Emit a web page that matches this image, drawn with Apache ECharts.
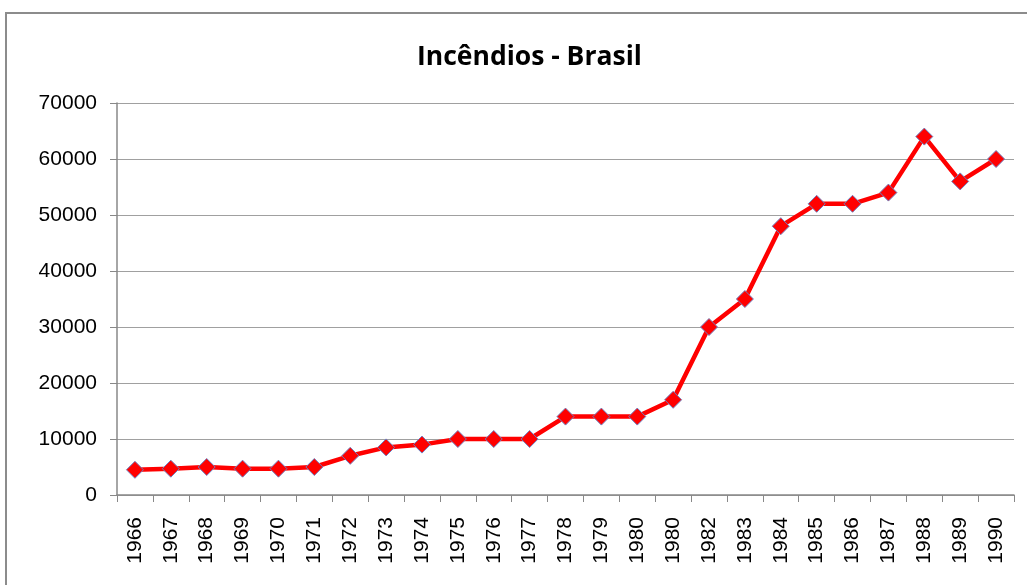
<!DOCTYPE html>
<html>
<head>
<meta charset="utf-8">
<script src="https://cdn.jsdelivr.net/npm/echarts@6/dist/echarts.min.js"></script>
<style>
html,body{margin:0;padding:0;background:#fff;}
#frame{position:absolute;left:5px;top:12px;width:1040px;height:600px;border:2px solid #8c8c8c;box-sizing:border-box;}
#chart{position:absolute;left:0;top:0;width:1027px;height:585px;}
</style>
</head>
<body>
<div id="frame"></div>
<div id="chart"></div>
<script>
const titleText = 'Incêndios - Brasil';
const years = ['1966','1967','1968','1969','1970','1971','1972','1973','1974','1975','1976','1977','1978','1979','1980','1980','1982','1983','1984','1985','1986','1987','1988','1989','1990'];
const incendios = [4500,4700,5000,4700,4700,5000,7000,8500,9000,10000,10000,10000,14000,14000,14000,17000,30000,35000,48000,52000,52000,54000,64000,56000,60000];

const chart = echarts.init(document.getElementById('chart'));
chart.setOption({
  animation:false,
  title:{text:titleText,left:412,top:39,textStyle:{fontFamily:'Open Sans, sans-serif',fontWeight:'bold',fontSize:26.5,color:'#000'}},
  grid:{left:117,right:13,top:103,bottom:90},
  xAxis:{type:'category',data:years,boundaryGap:true,
    axisLine:{lineStyle:{color:'#888',width:1.5}},
    axisTick:{show:true,length:7,alignWithLabel:false,interval:0,lineStyle:{color:'#888'}},
    axisLabel:{interval:0,rotate:90,fontFamily:'Liberation Sans, Arial, sans-serif',fontSize:21,color:'#000',margin:22}},
  yAxis:{type:'value',min:0,max:70000,interval:10000,
    axisLine:{show:true,lineStyle:{color:'#888',width:1.5}},
    axisTick:{show:true,length:7,lineStyle:{color:'#888'}},
    splitLine:{lineStyle:{color:'#a0a0a0',width:1.2}},
    axisLabel:{formatter:function(v){return String(v);},fontFamily:'Liberation Sans, Arial, sans-serif',fontSize:21,color:'#000',margin:20}},
  series:[{type:'line',data:incendios,symbol:'diamond',symbolSize:17,
    lineStyle:{color:'#ff0000',width:4.5},
    itemStyle:{color:'#ff0000',borderColor:'#6d7fbf',borderWidth:1}}]
});
</script>
</body>
</html>
